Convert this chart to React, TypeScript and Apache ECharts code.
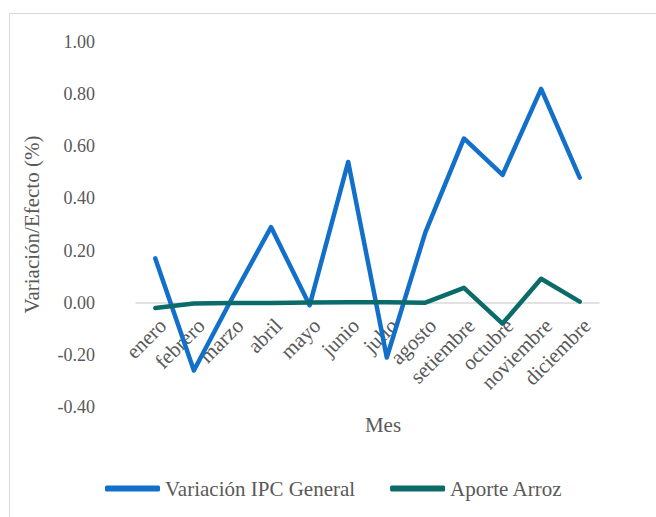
import React, { useEffect, useRef } from "react";
import * as echarts from "echarts";

const meses = ["enero", "febrero", "marzo", "abril", "mayo", "junio", "julio", "agosto", "setiembre", "octubre", "noviembre", "diciembre"];
const variacionIPC = [0.17, -0.26, 0.02, 0.29, -0.01, 0.54, -0.21, 0.27, 0.63, 0.49, 0.82, 0.48];
const aporteArroz = [-0.02, -0.003, -0.001, -0.001, 0.001, 0.002, 0.002, 0.0, 0.057, -0.08, 0.092, 0.004];
const yTicks = { min: -0.4, max: 1.0, interval: 0.2 };

const FONT = "'Liberation Serif', 'Times New Roman', serif";
const GRAY = "#595959";
const BLUE = "#1270CA";
const TEAL = "#0A6B68";

const GRID_TOP = 42;
const GRID_BOTTOM_PX = 407;
const zeroOffset = ((GRID_BOTTOM_PX - GRID_TOP) * (0 - yTicks.min)) / (yTicks.max - yTicks.min);

export default function App() {
  const ref = useRef<HTMLDivElement>(null);
  useEffect(() => {
    const chart = echarts.init(ref.current!, null, { renderer: "svg" });
    chart.setOption({
      animation: false,
      backgroundColor: "#ffffff",
      grid: { left: 136, right: 57, top: GRID_TOP, bottom: 517 - GRID_BOTTOM_PX, containLabel: false },
      xAxis: {
        type: "category",
        data: meses,
        boundaryGap: true,
        offset: -zeroOffset,
        axisLine: { show: true, onZero: false, lineStyle: { color: "#D9D9D9", width: 1.5 } },
        axisTick: { show: false },
        axisLabel: {
          rotate: 45,
          margin: 12,
          verticalAlign: "top",
          fontFamily: FONT,
          fontSize: 21,
          color: GRAY,
          interval: 0,
        },
        splitLine: { show: false },
      },
      yAxis: {
        type: "value",
        min: yTicks.min,
        max: yTicks.max,
        interval: yTicks.interval,
        axisLine: { show: false },
        axisTick: { show: false },
        splitLine: { show: false },
        axisLabel: {
          margin: 41,
          fontFamily: FONT,
          fontSize: 18,
          color: GRAY,
          formatter: (v: number) => v.toFixed(2),
        },
        name: "Variación/Efecto (%)",
        nameLocation: "middle",
        nameGap: 94,
        nameTextStyle: { fontFamily: FONT, fontSize: 21, color: GRAY },
      },
      legend: {
        left: 100,
        top: 473,
        icon: "roundRect",
        itemWidth: 55,
        itemHeight: 6,
        itemGap: 35,
        textStyle: { fontFamily: FONT, fontSize: 21, color: GRAY },
        data: ["Variación IPC General", "Aporte Arroz"],
      },
      graphic: [
        { type: "line", shape: { x1: 9.5, y1: 13.5, x2: 656, y2: 13.5 }, style: { stroke: "#D9D9D9", lineWidth: 1 } },
        { type: "line", shape: { x1: 9.5, y1: 13.5, x2: 9.5, y2: 517 }, style: { stroke: "#D9D9D9", lineWidth: 1 } },
        {
          type: "text",
          x: 383,
          y: 425,
          style: { text: "Mes", fontFamily: FONT, fontSize: 21, fill: GRAY, textAlign: "center", textVerticalAlign: "middle" },
        },
      ],
      series: [
        {
          name: "Variación IPC General",
          type: "line",
          data: variacionIPC,
          symbol: "none",
          lineStyle: { color: BLUE, width: 4.5, cap: "round", join: "round" },
          itemStyle: { color: BLUE },
        },
        {
          name: "Aporte Arroz",
          type: "line",
          data: aporteArroz,
          symbol: "none",
          lineStyle: { color: TEAL, width: 4.5, cap: "round", join: "round" },
          itemStyle: { color: TEAL },
        },
      ],
    });
    return () => chart.dispose();
  }, []);
  return <div ref={ref} style={{ position: "fixed", left: 0, top: 0, width: 656, height: 517 }} />;
}
